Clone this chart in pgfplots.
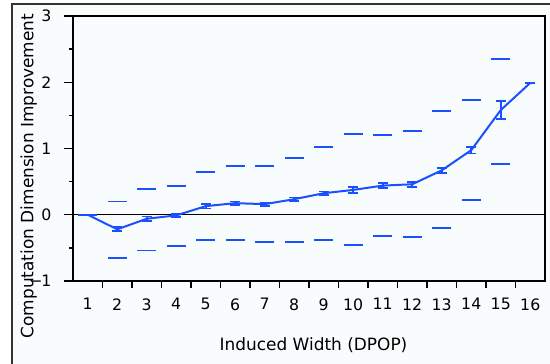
\documentclass[border=0pt]{standalone}
\usepackage{pgfplots}
\pgfplotsset{compat=1.18}
\usepackage{fontspec}
\setmainfont{DejaVu Sans}
\definecolor{bgc}{RGB}{248,252,253}
\definecolor{lblue}{RGB}{26,80,255}
\begin{document}
\begin{tikzpicture}
\useasboundingbox (-73bp,-83bp) rectangle (477bp,281bp);
\fill[bgc] (-61bp,-84bp) rectangle (478bp,277bp);
\draw[line width=1.6bp, black!80] (-61bp,-84bp) -- (-61bp,277bp) -- (478bp,277bp);
\begin{axis}[
  at={(0,0)}, anchor=south west,
  scale only axis, width=472bp, height=265bp,
  xmin=0.5, xmax=16.5, ymin=-1, ymax=3,
  axis background/.style={fill=bgc},
  axis line style={line width=1.3bp, black},
  font=\fontsize{17}{20}\selectfont,
  tick label style={font=\fontsize{15.8}{18}\selectfont},
  /pgf/number format/assume math mode=true,
  xtick={1,...,16},
  xtick style={draw=none},
  xticklabel style={yshift=-5bp},
  yticklabel style={anchor=east, xshift=-9bp},
  extra x ticks={1.5,2.5,...,15.5},
  extra x tick labels={},
  extra x tick style={major tick length=7bp, xtick style={draw=black, line width=1.3bp}},
  ytick={-1,0,1,2,3},
  yticklabels={{\char"2212\kern-1bp 1},0,1,2,3},
  minor y tick num=1,
  tick align=outside,
  tick pos=left,
  major tick length=9bp,
  minor tick length=4bp,
  ytick style={line width=1.3bp, draw=black},
  xlabel={Induced Width (DPOP)},
  ylabel={Computation Dimension Improvement},
  xlabel style={at={(axis description cs:0.5095,-0.2415)}, anchor=center},
  ylabel style={at={(axis description cs:-0.094,0.396)}, anchor=center},
]
\draw[black, line width=1.1bp] (axis cs:0.5,0) -- (axis cs:16.5,0);
% dashes (upper and lower)
\addplot[only marks, mark=-, mark size=9.5bp, lblue, mark options={line width=1.9bp}] coordinates {
(1,0) (2,0.20) (3,0.39) (4,0.44) (5,0.64) (6,0.73) (7,0.73) (8,0.86) (9,1.02) (10,1.22) (11,1.21) (12,1.26) (13,1.56) (14,1.73) (15,2.35)
(2,-0.65) (3,-0.54) (4,-0.47) (5,-0.38) (6,-0.38) (7,-0.405) (8,-0.405) (9,-0.38) (10,-0.45) (11,-0.32) (12,-0.34) (13,-0.205) (14,0.22) (15,0.77)
};
% mean line with error bars
\addplot[lblue, line width=2bp, mark=none,
  error bars/.cd, y dir=both, y explicit,
  error bar style={line width=1.6bp, lblue},
  error mark options={rotate=90, mark size=5bp, line width=1.8bp, lblue}]
 coordinates {
(1,0) +- (0,0)
(2,-0.22) +- (0,0.03)
(3,-0.06) +- (0,0.035)
(4,-0.01) +- (0,0.02)
(5,0.13) +- (0,0.035)
(6,0.175) +- (0,0.025)
(7,0.16) +- (0,0.025)
(8,0.235) +- (0,0.025)
(9,0.325) +- (0,0.025)
(10,0.375) +- (0,0.045)
(11,0.44) +- (0,0.04)
(12,0.46) +- (0,0.04)
(13,0.67) +- (0,0.04)
(14,0.975) +- (0,0.05)
(15,1.58) +- (0,0.14)
(16,1.99) +- (0,0)
};
\end{axis}
\end{tikzpicture}
\end{document}
